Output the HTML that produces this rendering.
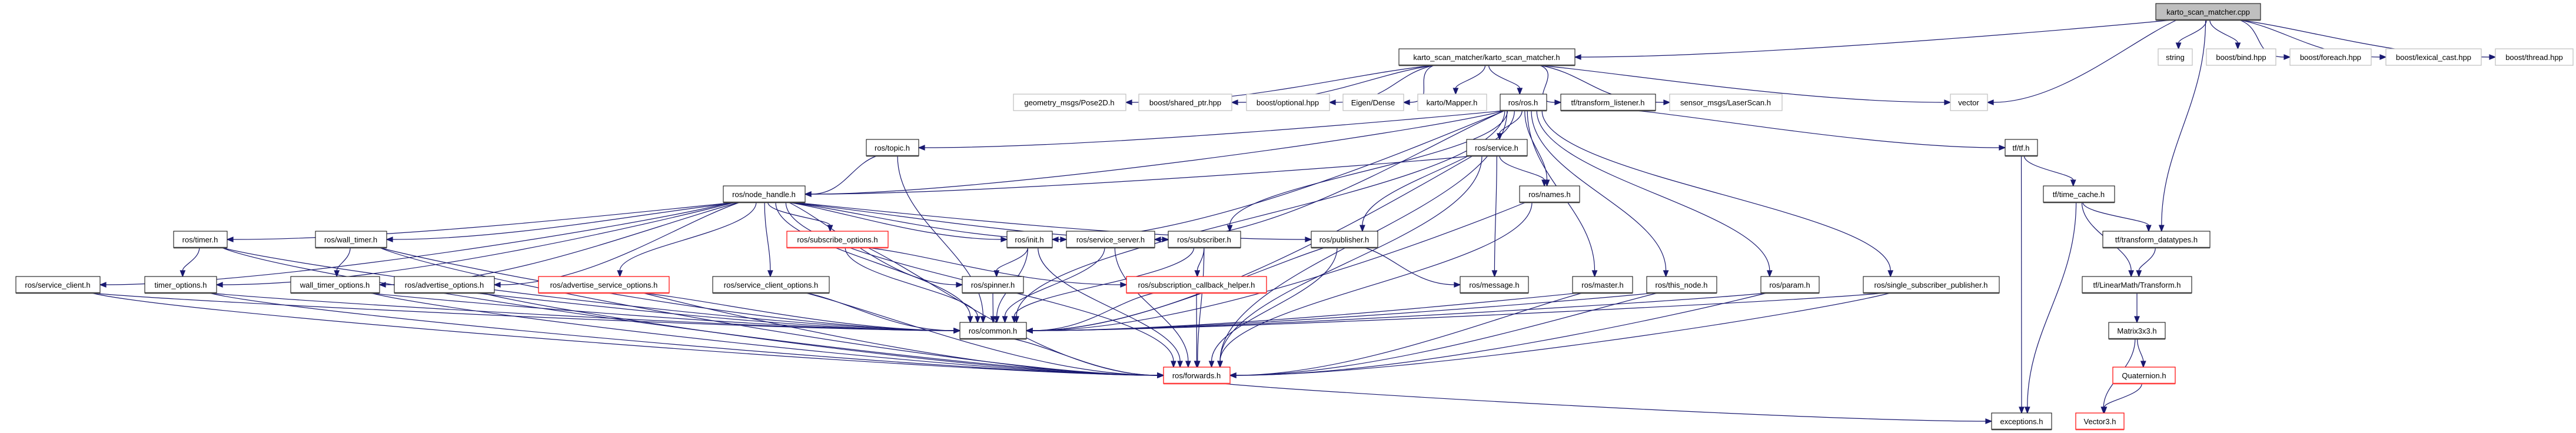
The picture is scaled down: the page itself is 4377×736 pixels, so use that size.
<!DOCTYPE html>
<html><head><meta charset="utf-8">
<style>
html,body{margin:0;padding:0;background:#fff;}
svg{display:block;}
text{font-family:"Liberation Sans","DejaVu Sans",sans-serif;font-size:13px;fill:#000;text-anchor:middle;}
.n{fill:#fff;stroke:#000;stroke-width:1;}
.g{fill:#fff;stroke:#bfbfbf;stroke-width:1.2;}
.r{fill:#fff;stroke:#ff0000;stroke-width:1.2;}
.m{fill:#bfbfbf;stroke:#000;stroke-width:1;}
</style></head>
<body>
<svg id="s" width="4377" height="736" viewBox="0 0 4377 736" xmlns="http://www.w3.org/2000/svg">
<g id="edges" fill="none" stroke="#191970" stroke-width="1.2"></g>
<g id="nodes">
<rect id="cpp" class="m" x="3663" y="6" width="178" height="28"/><text x="3752" y="25">karto_scan_matcher.cpp</text>
<rect id="string" class="g" x="3667" y="83" width="58" height="28"/><text x="3696" y="102">string</text>
<rect id="bind" class="g" x="3749" y="83" width="118" height="28"/><text x="3808" y="102">boost/bind.hpp</text>
<rect id="foreach" class="g" x="3891" y="83" width="138" height="28"/><text x="3960" y="102">boost/foreach.hpp</text>
<rect id="lexical" class="g" x="4054" y="83" width="162" height="28"/><text x="4135" y="102">boost/lexical_cast.hpp</text>
<rect id="thread" class="g" x="4240" y="83" width="132" height="28"/><text x="4306" y="102">boost/thread.hpp</text>
<rect id="ksm" class="n" x="2377" y="83" width="299" height="28"/><text x="2526" y="102">karto_scan_matcher/karto_scan_matcher.h</text>
<rect id="pose" class="g" x="1722" y="160" width="191" height="28"/><text x="1817" y="179">geometry_msgs/Pose2D.h</text>
<rect id="shared" class="g" x="1935" y="160" width="158" height="28"/><text x="2014" y="179">boost/shared_ptr.hpp</text>
<rect id="optional" class="g" x="2118" y="160" width="141" height="28"/><text x="2188" y="179">boost/optional.hpp</text>
<rect id="eigen" class="g" x="2282" y="160" width="103" height="28"/><text x="2333" y="179">Eigen/Dense</text>
<rect id="mapper" class="g" x="2409" y="160" width="117" height="28"/><text x="2467" y="179">karto/Mapper.h</text>
<rect id="ros" class="n" x="2549" y="160" width="79" height="28"/><text x="2588" y="179">ros/ros.h</text>
<rect id="tl" class="n" x="2652" y="160" width="161" height="28"/><text x="2732" y="179">tf/transform_listener.h</text>
<rect id="laser" class="g" x="2837" y="160" width="191" height="28"/><text x="2932" y="179">sensor_msgs/LaserScan.h</text>
<rect id="vector" class="g" x="3314" y="160" width="63" height="28"/><text x="3345" y="179">vector</text>
<rect id="topic" class="n" x="1472" y="237" width="89" height="28"/><text x="1516" y="256">ros/topic.h</text>
<rect id="service" class="n" x="2492" y="237" width="103" height="28"/><text x="2543" y="256">ros/service.h</text>
<rect id="tf" class="n" x="3407" y="237" width="55" height="28"/><text x="3434" y="256">tf/tf.h</text>
<rect id="nh" class="n" x="1229" y="316" width="139" height="28"/><text x="1298" y="335">ros/node_handle.h</text>
<rect id="names" class="n" x="2582" y="316" width="102" height="28"/><text x="2633" y="335">ros/names.h</text>
<rect id="timecache" class="n" x="3472" y="316" width="121" height="28"/><text x="3532" y="335">tf/time_cache.h</text>
<rect id="timer" class="n" x="295" y="393" width="91" height="28"/><text x="340" y="412">ros/timer.h</text>
<rect id="walltimer" class="n" x="536" y="393" width="121" height="28"/><text x="596" y="412">ros/wall_timer.h</text>
<rect id="subopt" class="r" x="1337" y="393" width="172" height="28"/><text x="1423" y="412">ros/subscribe_options.h</text>
<rect id="init" class="n" x="1711" y="393" width="77" height="28"/><text x="1749" y="412">ros/init.h</text>
<rect id="srvserver" class="n" x="1812" y="393" width="150" height="28"/><text x="1887" y="412">ros/service_server.h</text>
<rect id="subscriber" class="n" x="1985" y="393" width="123" height="28"/><text x="2046" y="412">ros/subscriber.h</text>
<rect id="publisher" class="n" x="2228" y="393" width="113" height="28"/><text x="2284" y="412">ros/publisher.h</text>
<rect id="tfdt" class="n" x="3573" y="393" width="182" height="28"/><text x="3664" y="412">tf/transform_datatypes.h</text>
<rect id="srvclient" class="n" x="27" y="470" width="143" height="28"/><text x="98" y="489">ros/service_client.h</text>
<rect id="timeropt" class="n" x="246" y="470" width="122" height="28"/><text x="307" y="489">timer_options.h</text>
<rect id="wtopt" class="n" x="494" y="470" width="151" height="28"/><text x="569" y="489">wall_timer_options.h</text>
<rect id="advopt" class="n" x="670" y="470" width="170" height="28"/><text x="755" y="489">ros/advertise_options.h</text>
<rect id="advsrvopt" class="r" x="915" y="470" width="222" height="28"/><text x="1026" y="489">ros/advertise_service_options.h</text>
<rect id="srvclopt" class="n" x="1211" y="470" width="198" height="28"/><text x="1310" y="489">ros/service_client_options.h</text>
<rect id="spinner" class="n" x="1635" y="470" width="104" height="28"/><text x="1687" y="489">ros/spinner.h</text>
<rect id="subcb" class="r" x="1914" y="470" width="238" height="28"/><text x="2033" y="489">ros/subscription_callback_helper.h</text>
<rect id="message" class="n" x="2481" y="470" width="116" height="28"/><text x="2539" y="489">ros/message.h</text>
<rect id="master" class="n" x="2672" y="470" width="102" height="28"/><text x="2723" y="489">ros/master.h</text>
<rect id="thisnode" class="n" x="2798" y="470" width="119" height="28"/><text x="2857" y="489">ros/this_node.h</text>
<rect id="param" class="n" x="2992" y="470" width="99" height="28"/><text x="3041" y="489">ros/param.h</text>
<rect id="ssp" class="n" x="3166" y="470" width="231" height="28"/><text x="3281" y="489">ros/single_subscriber_publisher.h</text>
<rect id="transform" class="n" x="3538" y="470" width="186" height="28"/><text x="3631" y="489">tf/LinearMath/Transform.h</text>
<rect id="common" class="n" x="1631" y="548" width="113" height="28"/><text x="1687" y="567">ros/common.h</text>
<rect id="matrix" class="n" x="3583" y="548" width="96" height="28"/><text x="3631" y="567">Matrix3x3.h</text>
<rect id="forwards" class="r" x="1977" y="624" width="113" height="28"/><text x="2033" y="643">ros/forwards.h</text>
<rect id="quat" class="r" x="3590" y="624" width="106" height="28"/><text x="3643" y="643">Quaternion.h</text>
<rect id="exceptions" class="n" x="3384" y="702" width="102" height="28"/><text x="3435" y="721">exceptions.h</text>
<rect id="vector3" class="r" x="3527" y="702" width="82" height="28"/><text x="3568" y="721">Vector3.h</text>
</g>
</svg>
<script>
(function(){
var NS="http://www.w3.org/2000/svg";
var eg=document.getElementById('edges');
function box(id){var r=document.getElementById(id);return{x:+r.getAttribute('x'),y:+r.getAttribute('y'),w:+r.getAttribute('width'),h:+r.getAttribute('height'),c:r.getAttribute('class')};}
function cl(v,a,b){return Math.max(a,Math.min(b,v));}
function add(tag,attrs,parent){var e=document.createElementNS(NS,tag);for(var k in attrs)e.setAttribute(k,attrs[k]);(parent||eg).appendChild(e);return e;}
function arrow(cx,cy,ex,ey){
  var dx=ex-cx,dy=ey-cy,L=Math.sqrt(dx*dx+dy*dy)||1;dx/=L;dy/=L;
  var bx=ex-dx*10,by=ey-dy*10;
  add('polygon',{points:ex+','+ey+' '+(bx-dy*4)+','+(by+dx*4)+' '+(bx+dy*4)+','+(by-dx*4),fill:'#191970',stroke:'#191970'});
  return [bx,by];
}
function edge(a,b){
  var S=box(a),T=box(b);
  var scx=S.x+S.w/2,tcx=T.x+T.w/2;
  var sb=S.y+S.h;
  // shadows
  if(T.y>=sb+10){
    var dy=T.y-sb,dx=tcx-scx;
    var sx=scx+cl(dx*0.05,-S.w*0.4,S.w*0.4),sy=sb;
    if(Math.abs(dx)>3*dy){
      var sg=dx>0?1:-1;
      var ex=dx>0?T.x:T.x+T.w,ey=T.y+T.h/2;
      if(sg>0&&sx<S.x+S.w*0.8) sx=S.x+S.w*0.8; if(sg<0&&sx>S.x+S.w*0.2) sx=S.x+S.w*0.2;
      var c2x=ex-sg*Math.min(Math.abs(dx)*0.3,300),c2y=ey;
      var c1x=sx+sg*Math.min(Math.abs(dx)*0.2,150),c1y=sy+dy*0.3;
      var p=arrow(c2x,c2y,ex,ey);
      add('path',{d:'M'+sx+','+sy+' C'+c1x+','+c1y+' '+c2x+','+c2y+' '+p[0]+','+p[1]});
    }else{
      var ex=tcx+cl((scx-tcx)*0.1,-T.w*0.35,T.w*0.35),ey=T.y;
      var c1x=sx,c1y=sy+dy*0.4,c2x=ex,c2y=ey-dy*0.4;
      var p=arrow(c2x,c2y,ex,ey);
      add('path',{d:'M'+sx+','+sy+' C'+c1x+','+c1y+' '+c2x+','+c2y+' '+p[0]+','+p[1]});
    }
  }else{
    var sx,sy,ex,ey;
    if(tcx>scx){sx=S.x+S.w;ex=T.x;}else{sx=S.x;ex=T.x+T.w;}
    sy=S.y+S.h/2;ey=T.y+T.h/2;
    var p=arrow(sx,sy,ex,ey);
    add('path',{d:'M'+sx+','+sy+' L'+p[0]+','+p[1]});
  }
}
var E={
cpp:['ksm','string','bind','foreach','lexical','thread','vector','tfdt'],
ksm:['pose','shared','optional','eigen','mapper','ros','tl','laser','vector'],
tl:['tf'],tf:['exceptions','timecache'],timecache:['tfdt','transform','exceptions'],
tfdt:['transform'],transform:['matrix'],matrix:['quat','vector3'],quat:['vector3'],
ros:['nh','topic','service','names','init','srvserver','subscriber','publisher','master','thisnode','param','ssp','forwards','common'],
service:['nh','message','names','forwards','common'],
topic:['nh','common'],
nh:['timer','walltimer','subopt','init','srvserver','subscriber','publisher','srvclient','timeropt','wtopt','advopt','advsrvopt','srvclopt','spinner','common','forwards'],
timer:['timeropt','common','forwards'],walltimer:['wtopt','common','forwards'],
subopt:['subcb','common','forwards'],init:['spinner','common','forwards'],
srvserver:['common','forwards'],subscriber:['subcb','common','forwards'],
publisher:['message','common','forwards'],names:['common','forwards'],
srvclient:['common','forwards'],timeropt:['common','forwards'],wtopt:['common','forwards'],
advopt:['common','forwards'],advsrvopt:['common','forwards'],srvclopt:['common','forwards'],
spinner:['common'],subcb:['common','forwards'],master:['common','forwards'],
thisnode:['common','forwards'],param:['common','forwards'],ssp:['common','forwards'],
common:['forwards'],forwards:['exceptions']};
for(var a in E)E[a].forEach(function(b){edge(a,b);});
// bottom shadows for non-gray nodes
var ng=document.getElementById('nodes');
var rs=ng.getElementsByTagName('rect');
for(var i=0;i<rs.length;i++){var c=rs[i].getAttribute('class');if(c==='g')continue;
 var x=+rs[i].getAttribute('x'),y=+rs[i].getAttribute('y'),w=+rs[i].getAttribute('width'),h=+rs[i].getAttribute('height');
 add('line',{x1:x,y1:y+h,x2:x+w,y2:y+h,stroke:c==='r'?'#ff4040':'#444',"stroke-width":2.5},ng);}
})();
</script>
</body></html>
